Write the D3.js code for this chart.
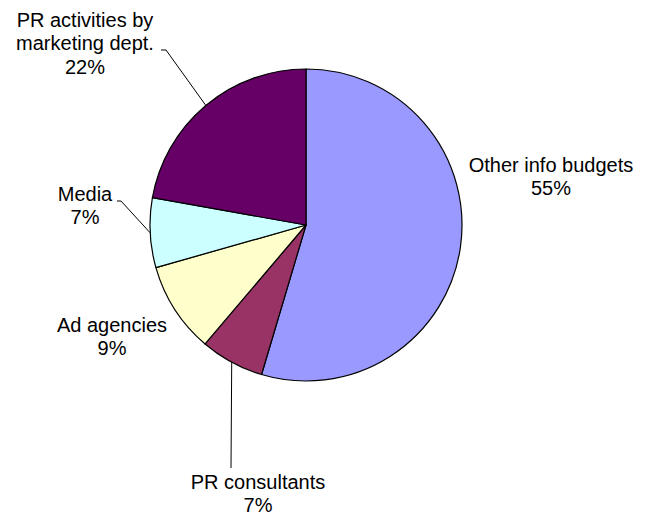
<!DOCTYPE html>
<html lang="en">
    <head>
        <meta charset="utf-8">
        <title>Info budgets pie</title>
        <script type="text/javascript" src="https://d3js.org/d3.v7.min.js"></script>
        <style>
            body { margin: 0; background: #fff; }
            text { font-family: "Liberation Sans", Arial, sans-serif; font-size: 20px; fill: #000; }
        </style>
    </head>
    <body>
        <div id="chart"></div>
        <script type="text/javascript">

            var categories = ["Other info budgets", "PR consultants", "Ad agencies", "Media", "PR activities by marketing dept."];
            var values = [54.6, 6.6, 9.4, 7.2, 22.2];
            var colors = ["#9999FF", "#993366", "#FFFFCC", "#CCFFFF", "#660066"];
            // label text lines (wrapped like the original)
            var labelLines = [
                ["Other info budgets"],
                ["PR consultants"],
                ["Ad agencies"],
                ["Media"],
                ["PR activities by", "marketing dept."]
            ];

            var w = 645;
            var h = 515;
            var cx = 306, cy = 225, r = 156;

            // where each label block sits: centre x, first baseline y, leader elbow (or null)
            var labelPos = [
                {x: 551, y: 172, leader: null},
                {x: 258, y: 488.5, leader: [[231, 468]]},
                {x: 112, y: 332, leader: null},
                {x: 85, y: 201, leader: [[121, 201], [117, 201]]},
                {x: 85, y: 27, leader: [[166, 50], [161, 50]]}
            ];

            var data = categories.map(function(c, i) {
                return {name: c, value: values[i], color: colors[i], lines: labelLines[i], pos: labelPos[i]};
            });

            var svg = d3.select("#chart")
                        .append("svg")
                        .attr("width", w)
                        .attr("height", h);

            var pie = d3.pie()
                        .sort(null)
                        .value(function(d) { return d.value; });

            var arc = d3.arc()
                        .innerRadius(0)
                        .outerRadius(r);

            var arcs = pie(data);

            var g = svg.append("g")
                        .attr("transform", "translate(" + cx + "," + cy + ")");

            g.selectAll("path.slice")
                .data(arcs)
                .enter()
                .append("path")
                .attr("class", "slice")
                .attr("d", arc)
                .attr("fill", function(d) { return d.data.color; })
                .attr("stroke", "#000")
                .attr("stroke-width", 1.2)
                .attr("stroke-linejoin", "round");

            // leader lines from the slice's outer edge at mid-angle
            arcs.forEach(function(d) {
                if (!d.data.pos.leader) return;
                var mid = (d.startAngle + d.endAngle) / 2;
                var pts = [[cx + r * Math.sin(mid), cy - r * Math.cos(mid)]].concat(d.data.pos.leader);
                svg.append("path")
                    .attr("d", d3.line()(pts))
                    .attr("fill", "none")
                    .attr("stroke", "#000")
                    .attr("stroke-width", 1);
            });

            // labels
            arcs.forEach(function(d) {
                var lines = d.data.lines.concat([Math.round(d.data.value) + "%"]);
                var t = svg.append("text")
                    .attr("text-anchor", "middle");
                lines.forEach(function(l, i) {
                    t.append("tspan")
                        .attr("x", d.data.pos.x)
                        .attr("y", d.data.pos.y + i * 23.3)
                        .text(l);
                });
            });

        </script>
    </body>
</html>
